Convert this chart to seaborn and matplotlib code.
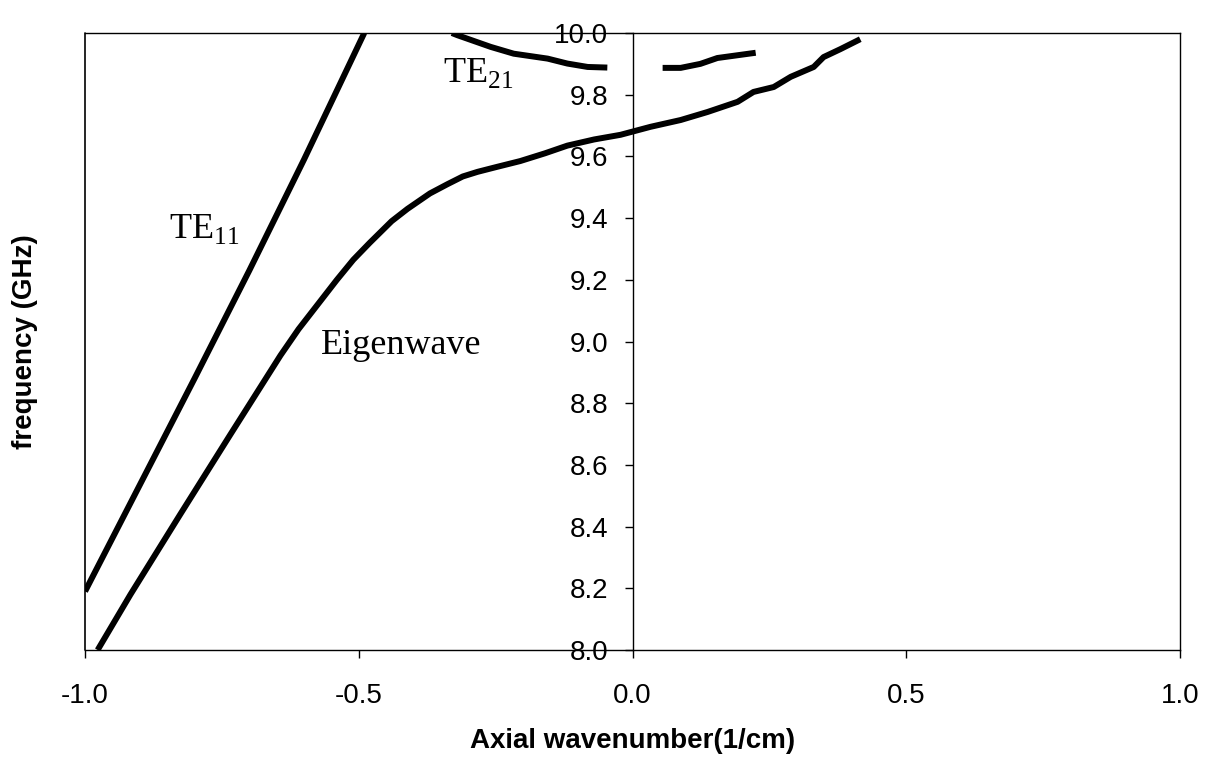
import pandas as pd
import seaborn as sns
import matplotlib.pyplot as plt

# curve data (k in 1/cm, f in GHz)
te11_k = [-1.0, -0.9, -0.8, -0.7, -0.6, -0.49]
te11_f = [8.19, 8.535, 8.88, 9.23, 9.59, 10.0]

eigen_k = [-0.977, -0.917, -0.826, -0.734, -0.643, -0.61, -0.575, -0.54, -0.51,
           -0.48, -0.44, -0.411, -0.37, -0.338, -0.31, -0.283, -0.25, -0.205,
           -0.16, -0.119, -0.07, -0.022, 0.033, 0.088, 0.137, 0.192,
           0.221, 0.258, 0.289, 0.331, 0.349, 0.38, 0.416]
eigen_f = [8.0, 8.18, 8.44, 8.70, 8.955, 9.04, 9.12, 9.2, 9.265,
           9.32, 9.39, 9.43, 9.48, 9.51, 9.535, 9.55, 9.565, 9.585,
           9.61, 9.635, 9.655, 9.67, 9.696, 9.718, 9.744, 9.777,
           9.809, 9.825, 9.858, 9.89, 9.922, 9.948, 9.98]

te21a_k = [-0.33, -0.32, -0.259, -0.217, -0.155, -0.119, -0.082, -0.046]
te21a_f = [10.0, 9.993, 9.955, 9.933, 9.917, 9.901, 9.89, 9.888]
te21b_k = [0.055, 0.088, 0.124, 0.155, 0.225]
te21b_f = [9.887, 9.887, 9.90, 9.919, 9.936]

x_ticks = [-1.0, -0.5, 0.0, 0.5, 1.0]
x_ticklabels = ['-1.0', '-0.5', '0.0', '0.5', '1.0']
y_ticks = [8.0, 8.2, 8.4, 8.6, 8.8, 9.0, 9.2, 9.4, 9.6, 9.8, 10.0]
y_ticklabels = ['%.1f' % v for v in y_ticks]

sns.set_style('ticks')
plt.rcParams['font.family'] = ['Liberation Sans', 'DejaVu Sans']
plt.rcParams['text.color'] = 'black'
plt.rcParams['axes.labelcolor'] = 'black'

fig, ax = plt.subplots(figsize=(12.08, 7.59), dpi=100)
fig.subplots_adjust(left=0.0704, right=0.9768, top=0.9565, bottom=0.1436)

curves = [(te11_k, te11_f), (eigen_k, eigen_f), (te21a_k, te21a_f), (te21b_k, te21b_f)]
for k, f in curves:
    df = pd.DataFrame({'k': k, 'f': f})
    sns.lineplot(data=df, x='k', y='f', ax=ax, color='black', linewidth=4.3,
                 sort=False, estimator=None, solid_capstyle='butt',
                 solid_joinstyle='round')

ax.set_xlim(-1, 1)
ax.set_ylim(8, 10)

# y axis sits at k = 0, outer frame kept as a box
ax.spines['left'].set_position(('data', 0))
ax.axvline(-1, color='black', linewidth=1.2, clip_on=False)
for side in ['left', 'right', 'bottom', 'top']:
    ax.spines[side].set_color('black')
    ax.spines[side].set_linewidth(1.0)

ax.set_xticks(x_ticks)
ax.set_xticklabels(x_ticklabels)
ax.set_yticks(y_ticks)
ax.set_yticklabels(y_ticklabels)
ax.tick_params(axis='both', direction='out', length=5.5, width=1, labelsize=20, colors='black')
ax.tick_params(axis='x', pad=18)
ax.tick_params(axis='y', pad=12)

ax.set_xlabel('Axial wavenumber(1/cm)', fontsize=20, fontweight='bold', labelpad=14)
ax.set_ylabel('frequency (GHz)', fontsize=20, fontweight='bold')
ax.yaxis.set_label_coords(-0.043, 0.5)

serif = ['Liberation Serif', 'DejaVu Serif']
ax.text(-0.846, 9.337, r'TE$_{\mathregular{11}}$', fontsize=26, family=serif, va='baseline')
ax.text(-0.57, 8.961, 'Eigenwave', fontsize=26, family=serif, va='baseline')
ax.text(-0.347, 9.841, r'TE$_{\mathregular{21}}$', fontsize=26, family=serif, va='baseline')

fig.savefig('out.png', dpi=100)
